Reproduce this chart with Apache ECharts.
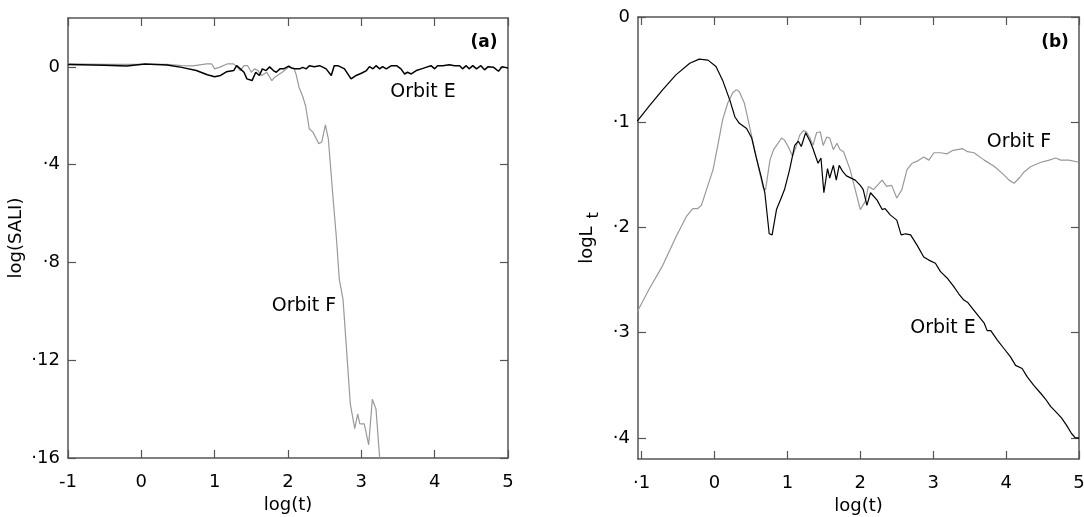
<!DOCTYPE html>
<html lang="en">
<head>
    <meta charset="UTF-8">
    <title>SALI and Lyapunov</title>
    <script src="https://cdn.jsdelivr.net/npm/echarts@6/dist/echarts.min.js"></script>
</head>
<body style="margin:0;background:#fff;">
    <div id="main" style="width:1084px;height:517px;"></div>
    <script>
// tick labels
var xTicks = [-1, 0, 1, 2, 3, 4, 5];
var saliTicks = [0, -4, -8, -12, -16];
var lyapTicks = [0, -1, -2, -3, -4];

// panel (a): log(SALI) vs log(t)
var saliE = [[-1, 0.1], [-0.5, 0.07], [-0.2, 0.04], [0.05, 0.12], [0.35, 0.08], [0.55, -0.02], [0.75, -0.15],
    [0.9, -0.32], [1.0, -0.4], [1.08, -0.35], [1.16, -0.2], [1.26, -0.15], [1.3, 0.05], [1.35, -0.08],
    [1.4, -0.22], [1.44, -0.49], [1.51, -0.56], [1.56, -0.22], [1.61, -0.35], [1.65, -0.08], [1.7, -0.15],
    [1.75, 0.0], [1.8, -0.15], [1.84, -0.22], [1.89, -0.08], [1.94, -0.08], [2.01, 0.03], [2.05, -0.05],
    [2.09, -0.08], [2.16, -0.08], [2.2, -0.02], [2.25, -0.08], [2.29, 0.05], [2.36, 0.01], [2.43, 0.05],
    [2.48, -0.02], [2.52, -0.08], [2.59, -0.35], [2.63, 0.05], [2.68, 0.05], [2.73, -0.02], [2.77, -0.08],
    [2.86, -0.49], [2.93, -0.35], [3.0, -0.26], [3.07, -0.15], [3.11, 0.01], [3.16, -0.08], [3.2, 0.05],
    [3.25, -0.08], [3.29, 0.01], [3.34, -0.08], [3.41, 0.05], [3.48, 0.05], [3.54, -0.08], [3.59, -0.29],
    [3.63, -0.22], [3.68, -0.29], [3.75, -0.15], [3.82, -0.08], [3.88, -0.02], [3.95, 0.05], [4.0, -0.08],
    [4.04, 0.05], [4.11, 0.05], [4.2, 0.09], [4.27, 0.05], [4.34, 0.05], [4.38, -0.08], [4.43, 0.05],
    [4.47, -0.08], [4.52, 0.05], [4.57, -0.08], [4.63, 0.05], [4.68, -0.12], [4.73, 0.01], [4.8, -0.01],
    [4.87, -0.18], [4.92, 0.01], [5.0, -0.05]];
var saliF = [[-1, 0.12], [-0.5, 0.1], [0, 0.1], [0.35, 0.1], [0.55, 0.05], [0.7, 0.04], [0.89, 0.12],
    [0.96, 0.12], [1.0, -0.08], [1.07, -0.01], [1.17, 0.12], [1.26, 0.12], [1.31, -0.01], [1.35, -0.15],
    [1.4, 0.05], [1.45, 0.05], [1.5, -0.22], [1.54, -0.08], [1.59, -0.15], [1.64, -0.35], [1.71, -0.22],
    [1.78, -0.56], [1.82, -0.42], [1.92, -0.22], [2.01, -0.01], [2.08, -0.05], [2.11, -0.3], [2.15, -0.83],
    [2.2, -1.2], [2.24, -1.6], [2.29, -2.53], [2.34, -2.67], [2.42, -3.14], [2.46, -3.07], [2.51, -2.37],
    [2.55, -2.94], [2.61, -5.2], [2.66, -7.0], [2.7, -8.7], [2.75, -9.5], [2.79, -11.2], [2.85, -13.8],
    [2.91, -14.8], [2.95, -14.2], [2.98, -14.6], [3.04, -14.6], [3.1, -15.46], [3.15, -13.6], [3.2, -14.0],
    [3.25, -16]];

// panel (b): log L_t vs log(t)
var lyapE = [[-1.06, -0.99], [-0.9, -0.85], [-0.71, -0.69], [-0.53, -0.55], [-0.34, -0.44], [-0.21, -0.4],
    [-0.09, -0.41], [0.02, -0.47], [0.11, -0.6], [0.21, -0.79], [0.28, -0.95], [0.34, -1.01], [0.44, -1.06],
    [0.51, -1.15], [0.57, -1.33], [0.64, -1.52], [0.69, -1.67], [0.75, -2.06], [0.79, -2.07], [0.85, -1.83],
    [0.92, -1.71], [0.96, -1.64], [1.03, -1.45], [1.1, -1.22], [1.15, -1.18], [1.19, -1.23], [1.25, -1.1],
    [1.31, -1.18], [1.35, -1.25], [1.39, -1.33], [1.42, -1.39], [1.46, -1.34], [1.5, -1.67], [1.55, -1.44],
    [1.58, -1.53], [1.63, -1.41], [1.67, -1.55], [1.71, -1.41], [1.76, -1.47], [1.81, -1.51], [1.93, -1.55],
    [2.0, -1.6], [2.04, -1.64], [2.09, -1.79], [2.14, -1.67], [2.23, -1.74], [2.3, -1.83], [2.34, -1.82],
    [2.41, -1.88], [2.5, -1.93], [2.56, -2.07], [2.62, -2.06], [2.69, -2.07], [2.78, -2.17], [2.87, -2.28],
    [2.94, -2.31], [3.03, -2.34], [3.1, -2.42], [3.19, -2.48], [3.28, -2.56], [3.35, -2.63], [3.42, -2.69],
    [3.47, -2.71], [3.54, -2.77], [3.63, -2.85], [3.7, -2.91], [3.74, -2.98], [3.79, -2.98], [3.88, -3.07],
    [3.97, -3.15], [4.06, -3.23], [4.13, -3.31], [4.22, -3.34], [4.29, -3.42], [4.38, -3.5], [4.48, -3.58],
    [4.54, -3.63], [4.61, -3.7], [4.68, -3.75], [4.76, -3.81], [4.83, -3.88], [4.9, -3.96], [4.95, -4.0],
    [5.0, -4.0]];
var lyapF = [[-1.06, -2.8], [-0.9, -2.59], [-0.71, -2.36], [-0.53, -2.09], [-0.39, -1.9], [-0.3, -1.82],
    [-0.23, -1.82], [-0.18, -1.79], [-0.11, -1.64], [-0.02, -1.45], [0.05, -1.2], [0.11, -0.98], [0.18, -0.82],
    [0.25, -0.72], [0.3, -0.69], [0.34, -0.71], [0.41, -0.82], [0.48, -1.04], [0.55, -1.26], [0.62, -1.48],
    [0.67, -1.63], [0.7, -1.64], [0.76, -1.36], [0.81, -1.26], [0.87, -1.2], [0.92, -1.15], [0.96, -1.17],
    [1.01, -1.23], [1.07, -1.32], [1.12, -1.23], [1.17, -1.12], [1.22, -1.08], [1.26, -1.09], [1.31, -1.15],
    [1.35, -1.22], [1.4, -1.1], [1.45, -1.09], [1.49, -1.22], [1.54, -1.14], [1.58, -1.15], [1.63, -1.26],
    [1.68, -1.2], [1.72, -1.26], [1.77, -1.28], [1.86, -1.45], [1.93, -1.64], [2.0, -1.83], [2.07, -1.75],
    [2.11, -1.61], [2.18, -1.64], [2.3, -1.55], [2.36, -1.61], [2.43, -1.6], [2.5, -1.72], [2.57, -1.64],
    [2.64, -1.45], [2.71, -1.39], [2.78, -1.37], [2.87, -1.33], [2.94, -1.36], [3.01, -1.29], [3.1, -1.29],
    [3.19, -1.3], [3.26, -1.27], [3.4, -1.25], [3.47, -1.28], [3.56, -1.29], [3.7, -1.36], [3.84, -1.42],
    [3.97, -1.5], [4.04, -1.55], [4.11, -1.58], [4.18, -1.53], [4.25, -1.47], [4.34, -1.42], [4.48, -1.38],
    [4.59, -1.36], [4.68, -1.34], [4.75, -1.36], [4.86, -1.36], [5.0, -1.38]];

var myChart = echarts.init(document.getElementById('main'));

var FONT = 'DejaVu Sans';
var frameColor = '#555';

function fmtDot(v) {
    return v < 0 ? '\u00b7' + Math.abs(v) : String(v);
}

// builds one axis of the boxed frame; labelled or mirror
function makeAxis(opts) {
    return {
        type: 'value',
        gridIndex: opts.grid,
        position: opts.position,
        min: opts.min,
        max: opts.max,
        name: opts.name || '',
        nameLocation: 'middle',
        nameGap: opts.nameGap || 0,
        nameRotate: opts.nameRotate,
        nameTextStyle: { fontFamily: FONT, fontSize: 18, color: '#000', rich: opts.rich },
        axisLine: { show: true, onZero: false, lineStyle: { color: frameColor, width: 1.5 } },
        axisTick: { show: true, inside: true, length: 8, customValues: opts.ticks,
            lineStyle: { color: frameColor, width: 1.2 } },
        axisLabel: { show: !!opts.labels, customValues: opts.ticks, margin: opts.margin || 8,
            fontFamily: FONT, fontSize: 18, color: '#000', formatter: opts.formatter },
        splitLine: { show: false }
    };
}

var option = {
    animation: false,
    grid: [
        { left: 68, top: 18, width: 440, height: 440, outerBoundsMode: 'none', containLabel: false },
        { left: 638, top: 17, width: 441, height: 442, outerBoundsMode: 'none', containLabel: false }
    ],
    xAxis: [
        makeAxis({ grid: 0, position: 'bottom', min: -1, max: 5, ticks: xTicks, labels: true,
            name: 'log(t)', nameGap: 38, margin: 15, formatter: function (v) { return String(v); } }),
        makeAxis({ grid: 0, position: 'top', min: -1, max: 5, ticks: xTicks }),
        makeAxis({ grid: 1, position: 'bottom', min: -1.05, max: 5, ticks: xTicks, labels: true,
            name: 'log(t)', nameGap: 38, margin: 15, formatter: fmtDot }),
        makeAxis({ grid: 1, position: 'top', min: -1.05, max: 5, ticks: xTicks })
    ],
    yAxis: [
        makeAxis({ grid: 0, position: 'left', min: -16, max: 2, ticks: saliTicks, labels: true,
            name: 'log(SALI)', nameGap: 43, nameRotate: 90, formatter: fmtDot }),
        makeAxis({ grid: 0, position: 'right', min: -16, max: 2, ticks: saliTicks }),
        makeAxis({ grid: 1, position: 'left', min: -4.2, max: 0, ticks: lyapTicks, labels: true,
            name: '{a|logL}{b|t}', nameGap: 36, nameRotate: 90, formatter: fmtDot,
            rich: { a: { fontFamily: FONT, fontSize: 18, color: '#000' },
                    b: { fontFamily: FONT, fontSize: 16, color: '#000', padding: [14, 0, 0, 8] } } }),
        makeAxis({ grid: 1, position: 'right', min: -4.2, max: 0, ticks: lyapTicks })
    ],
    series: [
        { name: 'Orbit F', type: 'line', xAxisIndex: 0, yAxisIndex: 0, data: saliF, showSymbol: false,
          lineStyle: { color: '#999', width: 1.2 }, clip: true },
        { name: 'Orbit E', type: 'line', xAxisIndex: 0, yAxisIndex: 0, data: saliE, showSymbol: false,
          lineStyle: { color: '#000', width: 1.5 }, clip: true },
        { name: 'Orbit F', type: 'line', xAxisIndex: 2, yAxisIndex: 2, data: lyapF, showSymbol: false,
          lineStyle: { color: '#999', width: 1.2 }, clip: true },
        { name: 'Orbit E', type: 'line', xAxisIndex: 2, yAxisIndex: 2, data: lyapE, showSymbol: false,
          lineStyle: { color: '#000', width: 1.2 }, clip: true }
    ],
    graphic: [
        { type: 'text', x: 484, y: 43, style: { text: '(a)', font: 'bold 17px ' + FONT, fill: '#000', align: 'center', verticalAlign: 'middle' } },
        { type: 'text', x: 1055, y: 43, style: { text: '(b)', font: 'bold 17px ' + FONT, fill: '#000', align: 'center', verticalAlign: 'middle' } },
        { type: 'text', x: 423, y: 92, style: { text: 'Orbit E', font: '19px ' + FONT, fill: '#000', align: 'center', verticalAlign: 'middle' } },
        { type: 'text', x: 304, y: 306, style: { text: 'Orbit F', font: '19px ' + FONT, fill: '#000', align: 'center', verticalAlign: 'middle' } },
        { type: 'text', x: 1019, y: 142, style: { text: 'Orbit F', font: '19px ' + FONT, fill: '#000', align: 'center', verticalAlign: 'middle' } },
        { type: 'text', x: 943, y: 328, style: { text: 'Orbit E', font: '19px ' + FONT, fill: '#000', align: 'center', verticalAlign: 'middle' } }
    ]
};

myChart.setOption(option);
    </script>
</body>
</html>
